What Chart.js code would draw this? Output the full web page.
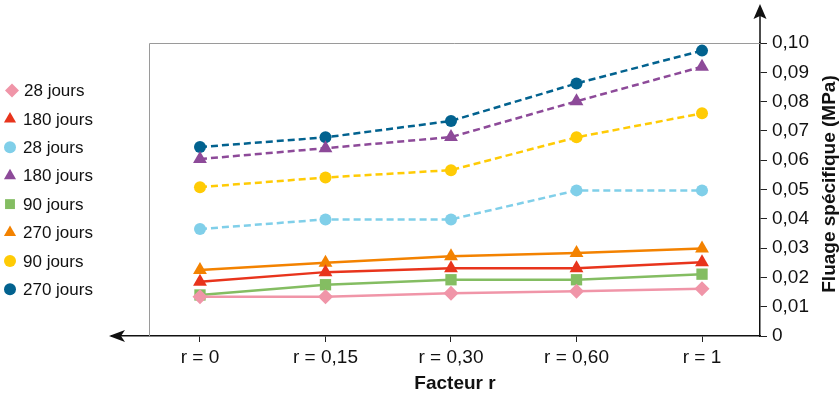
<!DOCTYPE html>
<html>
<head>
<meta charset="utf-8">
<script src="https://cdn.jsdelivr.net/npm/chart.js@4"></script>
<style>
  html, body { margin: 0; padding: 0; background: #fff; }
  #wrap { width: 840px; height: 394px; }
</style>
</head>
<body>
<div id="wrap"><canvas id="graphe" width="840" height="394"></canvas></div>
<script>
// Données
const facteurs = ['r = 0', 'r = 0,15', 'r = 0,30', 'r = 0,60', 'r = 1'];
const yTicks = [0, 0.01, 0.02, 0.03, 0.04, 0.05, 0.06, 0.07, 0.08, 0.09, 0.10];

const rose28 = [0.0134, 0.0134, 0.0146, 0.0153, 0.0161];
const rouge180 = [0.0185, 0.0218, 0.0231, 0.0231, 0.0252];
const bleuClair28 = [0.0365, 0.0398, 0.0398, 0.0497, 0.0497];
const violet180 = [0.0604, 0.0641, 0.0679, 0.0801, 0.0919];
const vert90 = [0.0140, 0.0175, 0.0192, 0.0192, 0.0211];
const orange270 = [0.0225, 0.0250, 0.0272, 0.0283, 0.0299];
const jaune90 = [0.0508, 0.0541, 0.0566, 0.0678, 0.0760];
const bleu270 = [0.0645, 0.0678, 0.0734, 0.0862, 0.0974];

const police = '"Liberation Sans", Arial, sans-serif';

// taille des marqueurs selon la forme
const rayons = { rectRot: 7.5, triangle: 8, rect: 8, circle: 6 };

function serie(label, valeurs, couleur, style, pointille) {
    return {
        label: label,
        data: valeurs.map((v, i) => ({ x: i, y: v })),
        borderColor: couleur,
        backgroundColor: couleur,
        pointBackgroundColor: couleur,
        pointBorderColor: couleur,
        pointBorderWidth: 0,
        pointStyle: style,
        pointRadius: rayons[style],
        pointHoverRadius: rayons[style],
        borderWidth: 2.5,
        borderDash: pointille ? [7, 4] : [],
        tension: 0
    };
}

const series = [
    serie('28 jours', rose28, '#f095a8', 'rectRot', false),
    serie('180 jours', rouge180, '#e8341c', 'triangle', false),
    serie('28 jours', bleuClair28, '#80cfe9', 'circle', true),
    serie('180 jours', violet180, '#8d4a99', 'triangle', true),
    serie('90 jours', vert90, '#84bd62', 'rect', false),
    serie('270 jours', orange270, '#f38200', 'triangle', false),
    serie('90 jours', jaune90, '#ffcb05', 'circle', true),
    serie('270 jours', bleu270, '#02628f', 'circle', true)
];

// Légende, cadre gris, flèches et titres d'axes
const decor = {
    id: 'decor',
    beforeDatasetsDraw(chart) {
        const ctx = chart.ctx;
        const a = chart.chartArea;
        ctx.save();
        ctx.strokeStyle = '#9a9a9a';
        ctx.lineWidth = 1;
        ctx.beginPath();
        ctx.moveTo(149.5, a.bottom);
        ctx.lineTo(149.5, a.top + 0.5);
        ctx.lineTo(a.right, a.top + 0.5);
        ctx.stroke();
        ctx.restore();
    },
    afterDraw(chart) {
        const ctx = chart.ctx;
        const a = chart.chartArea;
        ctx.save();
        // axe vertical prolongé + flèche
        ctx.strokeStyle = '#111';
        ctx.fillStyle = '#111';
        ctx.lineWidth = 1.5;
        ctx.beginPath();
        ctx.moveTo(a.right, a.top);
        ctx.lineTo(a.right, 14);
        ctx.stroke();
        ctx.beginPath();
        ctx.moveTo(a.right, 4);
        ctx.lineTo(a.right - 6.5, 19);
        ctx.lineTo(a.right, 16);
        ctx.lineTo(a.right + 6.5, 19);
        ctx.closePath();
        ctx.fill();
        // flèche de l'axe horizontal
        ctx.beginPath();
        ctx.moveTo(109, a.bottom);
        ctx.lineTo(125, a.bottom - 6);
        ctx.lineTo(121, a.bottom);
        ctx.lineTo(125, a.bottom + 6);
        ctx.closePath();
        ctx.fill();

        // titres
        ctx.fillStyle = '#111';
        ctx.font = 'bold 19px ' + police;
        ctx.textAlign = 'center';
        ctx.textBaseline = 'middle';
        ctx.fillText('Facteur r', 455, 384);
        ctx.translate(830, 184);
        ctx.rotate(-Math.PI / 2);
        ctx.fillText('Fluage spécifique (MPa)', 0, 0);
        ctx.restore();

        // légende
        ctx.save();
        ctx.font = '17px ' + police;
        ctx.textAlign = 'left';
        ctx.textBaseline = 'middle';
        chart.data.datasets.forEach((ds, i) => {
            const y = 90.5 + i * 28.4;
            const losange = ds.pointStyle === 'rectRot';
            ctx.fillStyle = ds.borderColor;
            ctx.strokeStyle = ds.borderColor;
            Chart.helpers.drawPoint(ctx, {
                pointStyle: ds.pointStyle,
                radius: ds.pointStyle === 'circle' ? 6 : 7,
                rotation: 0,
                borderWidth: 0
            }, losange ? 12 : 10, y);
            ctx.fillStyle = '#111';
            ctx.fillText(ds.label, losange ? 24 : 23, y + 1);
        });
        ctx.restore();
    }
};

new Chart(document.getElementById('graphe'), {
    type: 'line',
    data: { datasets: series },
    options: {
        responsive: false,
        animation: false,
        layout: { padding: { left: 112, top: 43, right: 0, bottom: 0 } },
        plugins: { legend: { display: false }, tooltip: { enabled: false } },
        scales: {
            x: {
                type: 'linear',
                min: -0.701,
                max: 4.462,
                afterBuildTicks: (s) => { s.ticks = facteurs.map((f, i) => ({ value: i })); },
                afterFit: (s) => { s.height = 58; },
                grid: { drawOnChartArea: false, drawTicks: true, tickLength: 6, color: '#222' },
                border: { display: true, color: '#111', width: 1.5 },
                ticks: {
                    autoSkip: false,
                    maxRotation: 0,
                    padding: 4,
                    color: '#111',
                    font: { family: police, size: 19 },
                    callback: (v) => facteurs[v]
                }
            },
            y: {
                position: 'right',
                min: 0,
                max: 0.10,
                afterBuildTicks: (s) => { s.ticks = yTicks.map((v) => ({ value: v })); },
                afterFit: (s) => { s.width = 80; },
                grid: { drawOnChartArea: false, drawTicks: true, tickLength: 7, color: '#222' },
                border: { display: true, color: '#111', width: 1.5 },
                ticks: {
                    padding: 5,
                    color: '#111',
                    font: { family: police, size: 19 },
                    callback: (v) => v === 0 ? '0' : v.toFixed(2).replace('.', ',')
                }
            }
        }
    },
    plugins: [decor]
});
</script>
</body>
</html>
